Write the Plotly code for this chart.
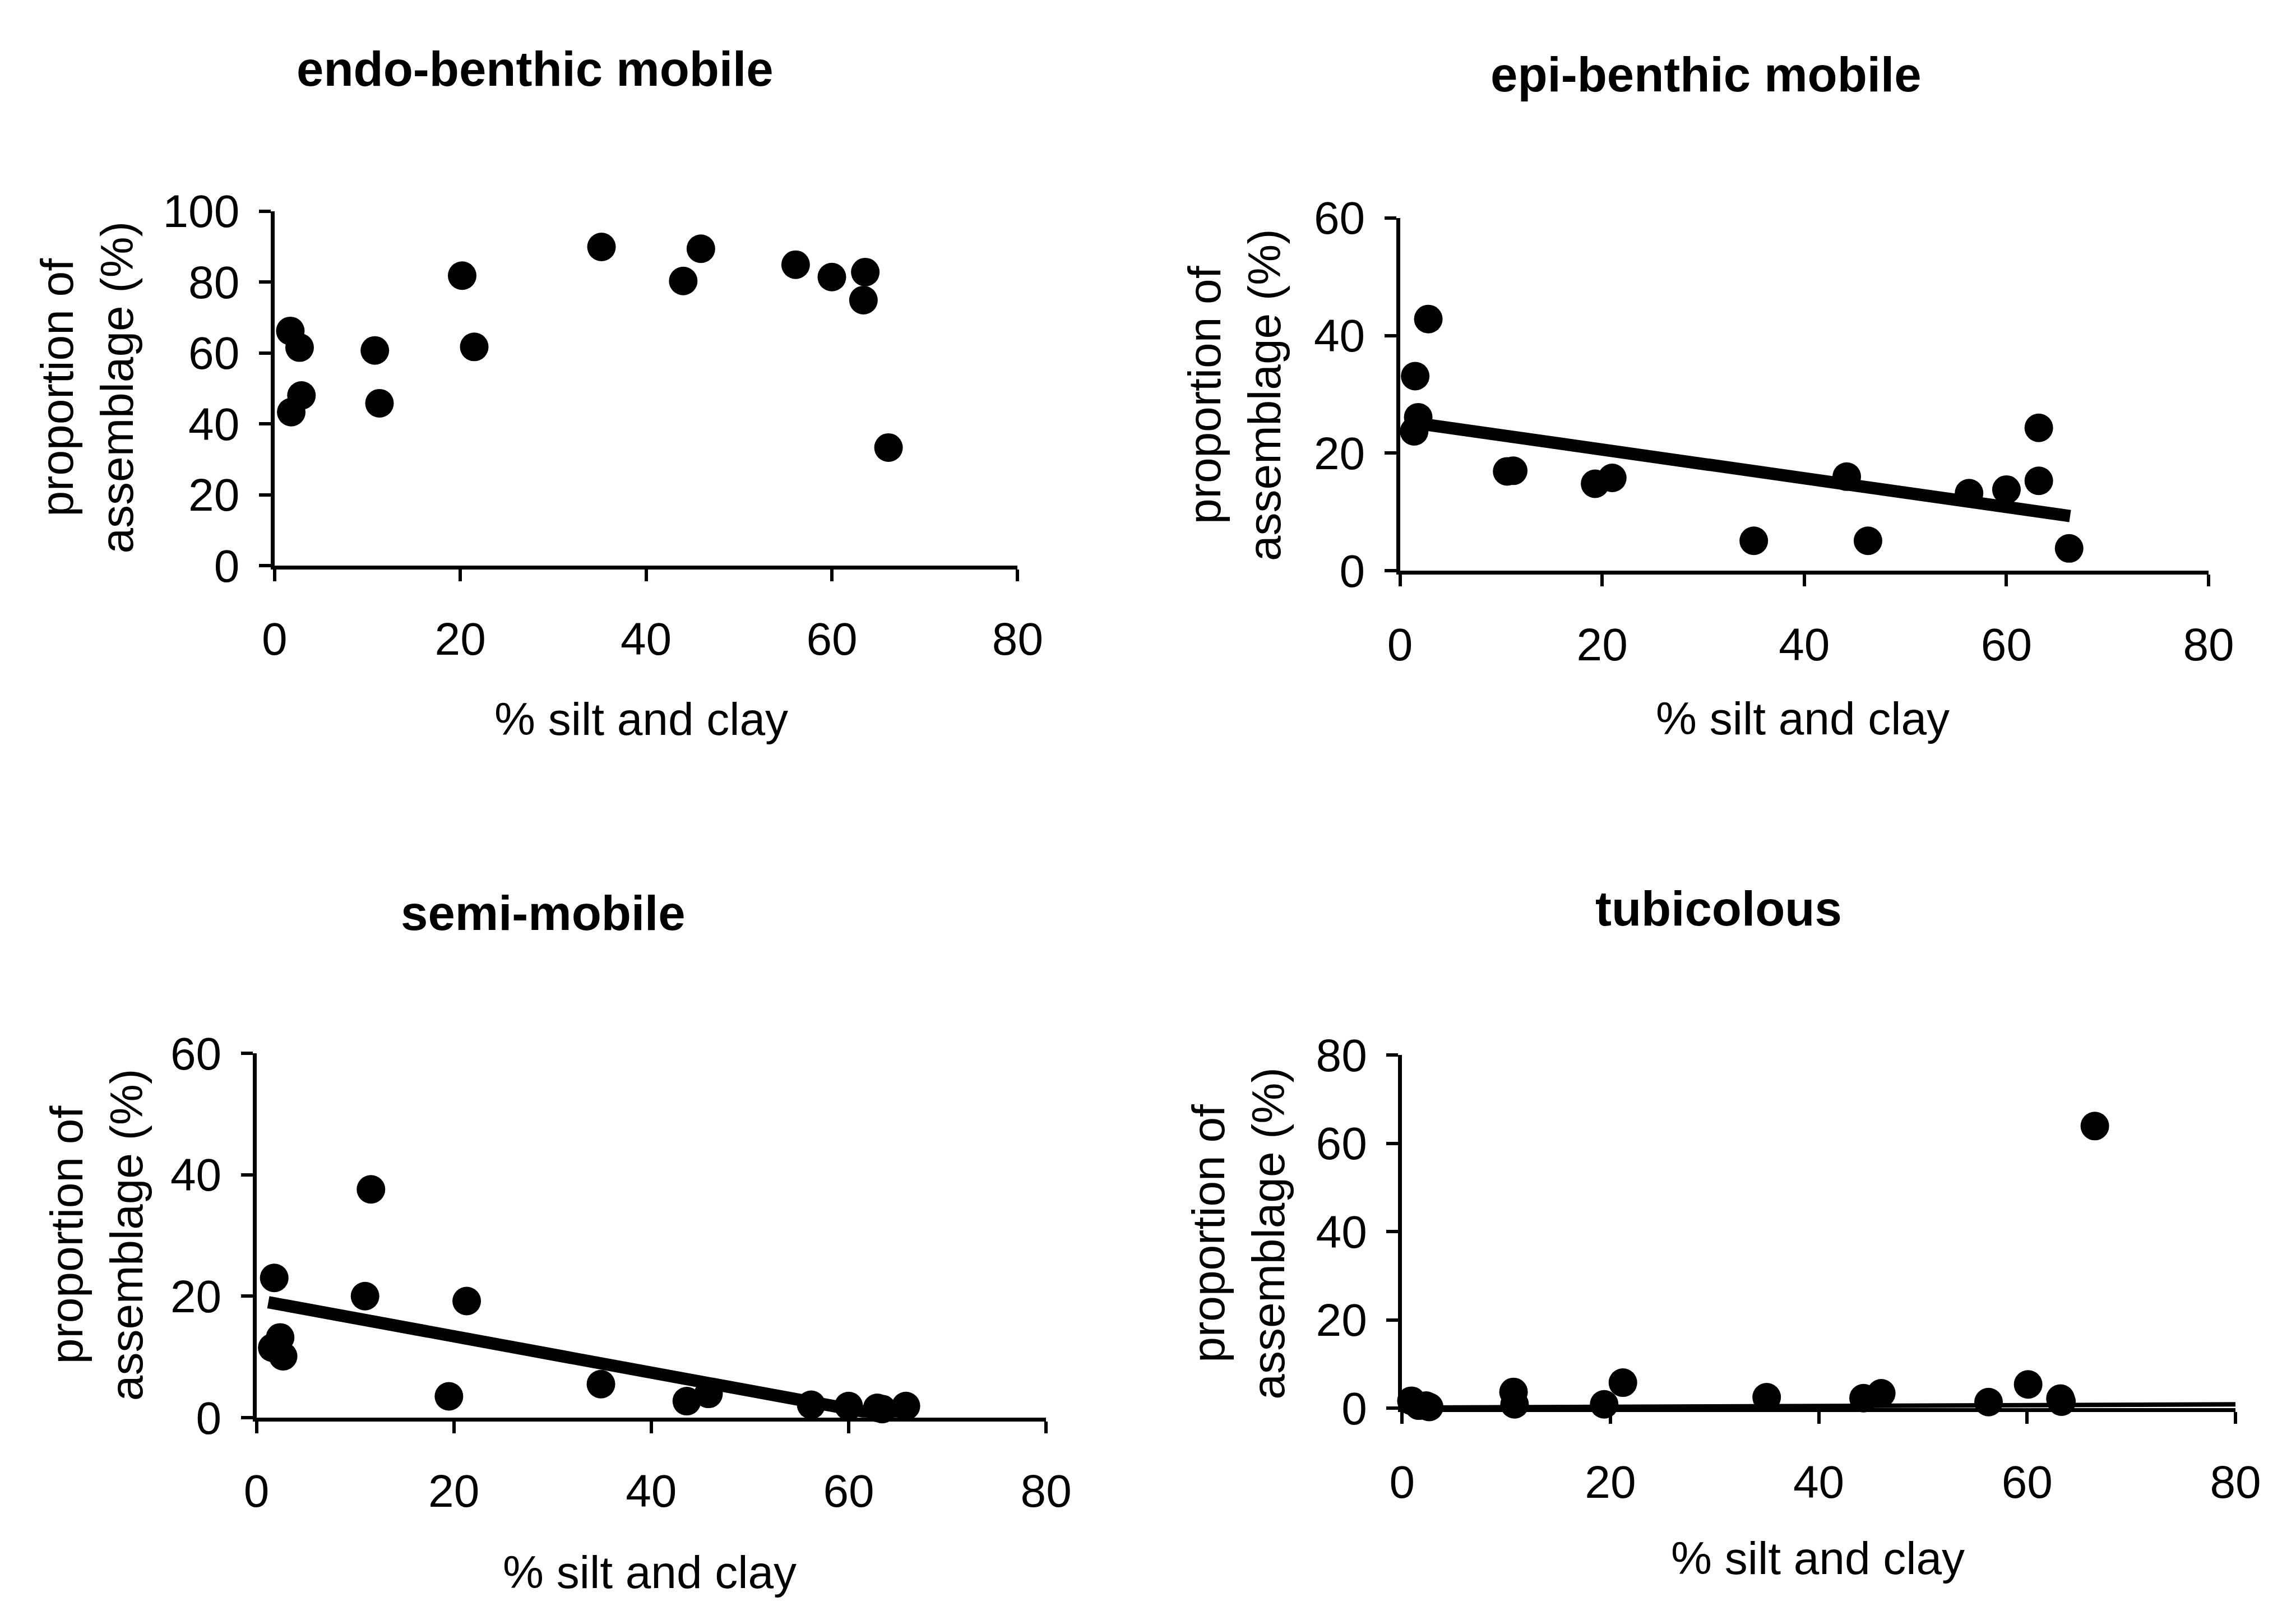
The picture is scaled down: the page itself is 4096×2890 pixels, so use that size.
import plotly.graph_objects as go

# ---------------- data ----------------
endo_x = [1.7, 2.7, 2.9, 1.8, 10.8, 11.3, 20.2, 21.5, 35.2, 44.0, 45.9, 56.1, 60.0, 63.6, 63.4, 66.1]
endo_y = [66.2, 61.5, 48.0, 43.3, 60.7, 45.8, 81.8, 61.7, 89.9, 80.3, 89.4, 84.9, 81.4, 82.8, 74.9, 33.3]

epi_x = [2.8, 1.5, 1.8, 1.4, 10.6, 11.2, 19.3, 21.0, 35.0, 44.2, 46.3, 56.3, 60.0, 63.2, 63.2, 66.2]
epi_y = [42.8, 33.1, 26.1, 23.7, 16.9, 17.0, 14.8, 15.8, 5.1, 16.0, 5.1, 13.2, 13.8, 24.3, 15.3, 3.8]
epi_trend_x = [1.6, 66.3]
epi_trend_y = [25.1, 9.3]

semi_x = [1.8, 2.4, 1.6, 2.7, 11.6, 11.0, 19.5, 21.3, 34.9, 43.6, 45.8, 56.2, 60.0, 62.9, 63.4, 65.8]
semi_y = [23.0, 13.2, 11.5, 10.1, 37.6, 20.0, 3.5, 19.2, 5.5, 2.7, 3.9, 2.1, 1.9, 1.6, 1.4, 1.9]
semi_trend_x = [1.2, 65.8]
semi_trend_y = [19.0, -0.3]

tubi_x = [0.9, 1.6, 2.3, 2.6, 10.7, 10.8, 19.4, 21.2, 35.0, 44.3, 46.0, 56.3, 60.1, 63.2, 63.3, 66.5]
tubi_y = [1.7, 0.6, 0.6, 0.3, 3.7, 0.9, 0.9, 5.8, 2.5, 2.3, 3.4, 1.4, 5.4, 2.2, 1.5, 63.9]
tubi_trend_x = [0.9, 80.0]
tubi_trend_y = [0.15, 0.9]

titles = ["endo-benthic mobile", "epi-benthic mobile", "semi-mobile", "tubicolous"]
x_title = "% silt and clay"
y_title = "proportion of<br>assemblage (%)"
x_ticks = [0, 20, 40, 60, 80]
y_max = [100, 60, 60, 80]

# ---------------- layout geometry (paper fractions) ----------------
x_domains = [[0.1159, 0.4451], [0.6145, 0.9727], [0.1079, 0.4577], [0.6154, 0.9846]]
y_domains = [[0.6556, 0.8815], [0.6523, 0.8772], [0.1126, 0.3447], [0.1185, 0.3437]]
title_pos = [(0.2313, 0.9722), (0.7500, 0.9689), (0.2348, 0.4341), (0.7556, 0.4371)]
xt_pos = [(0.2783, 0.5579), (0.7928, 0.5583), (0.2822, 0.0142), (0.7995, 0.0232)]
yt_pos = [(0.0329, 0.7692), (0.5411, 0.7642), (0.0369, 0.2288), (0.5428, 0.2298)]

FONT = "Liberation Sans, Arial, sans-serif"
TICK_SIZE = 82
LABEL_SIZE = 82
TITLE_SIZE = 87
MARKER = 51
LINE_W = 7

fig = go.Figure()

series = [
    (endo_x, endo_y, None, None, 22),
    (epi_x, epi_y, epi_trend_x, epi_trend_y, 22),
    (semi_x, semi_y, semi_trend_x, semi_trend_y, 22),
    (tubi_x, tubi_y, tubi_trend_x, tubi_trend_y, 8),
]

for i, (sx, sy, tx, ty, tw) in enumerate(series):
    xa = "x" if i == 0 else f"x{i+1}"
    ya = "y" if i == 0 else f"y{i+1}"
    if tx is not None:
        fig.add_trace(go.Scatter(x=tx, y=ty, mode="lines", xaxis=xa, yaxis=ya,
                                 line=dict(color="black", width=tw), showlegend=False,
                                 hoverinfo="skip"))
    fig.add_trace(go.Scatter(x=sx, y=sy, mode="markers", xaxis=xa, yaxis=ya,
                             marker=dict(color="black", size=MARKER, line=dict(width=0)),
                             cliponaxis=False, showlegend=False))

layout = dict(
    width=4096, height=2890,
    margin=dict(l=0, r=0, t=0, b=0),
    paper_bgcolor="white", plot_bgcolor="white",
    font=dict(family=FONT, color="black"),
    showlegend=False,
)

annotations = []
for i in range(4):
    sfx = "" if i == 0 else str(i + 1)
    layout["xaxis" + sfx] = dict(
        domain=x_domains[i], range=[0, 80], tickvals=x_ticks, anchor="y" + sfx,
        showline=True, linecolor="black", linewidth=LINE_W,
        ticks="outside", ticklen=21, tickwidth=6, tickcolor="black",
        showgrid=False, zeroline=False, fixedrange=True,
        tickfont=dict(family=FONT, size=TICK_SIZE, color="black"),
        ticklabelstandoff=33,
    )
    layout["yaxis" + sfx] = dict(
        domain=y_domains[i], range=[0, y_max[i]], dtick=20, anchor="x" + sfx,
        showline=True, linecolor="black", linewidth=LINE_W,
        ticks="outside", ticklen=21, tickwidth=6, tickcolor="black",
        showgrid=False, zeroline=False, fixedrange=True,
        tickfont=dict(family=FONT, size=TICK_SIZE, color="black"),
        ticklabelstandoff=18,
    )
    annotations.append(dict(text=f"<b>{titles[i]}</b>", x=title_pos[i][0], y=title_pos[i][1],
                            xref="paper", yref="paper", showarrow=False,
                            xanchor="center", yanchor="middle",
                            font=dict(family=FONT, size=TITLE_SIZE, color="black")))
    annotations.append(dict(text=x_title, x=xt_pos[i][0], y=xt_pos[i][1],
                            xref="paper", yref="paper", showarrow=False,
                            xanchor="center", yanchor="middle",
                            font=dict(family=FONT, size=LABEL_SIZE, color="black")))
    annotations.append(dict(text=y_title, x=yt_pos[i][0], y=yt_pos[i][1],
                            xref="paper", yref="paper", showarrow=False, textangle=-90,
                            xanchor="center", yanchor="middle",
                            font=dict(family=FONT, size=LABEL_SIZE, color="black")))

layout["annotations"] = annotations
fig.update_layout(**layout)

fig.write_html("out.html")
